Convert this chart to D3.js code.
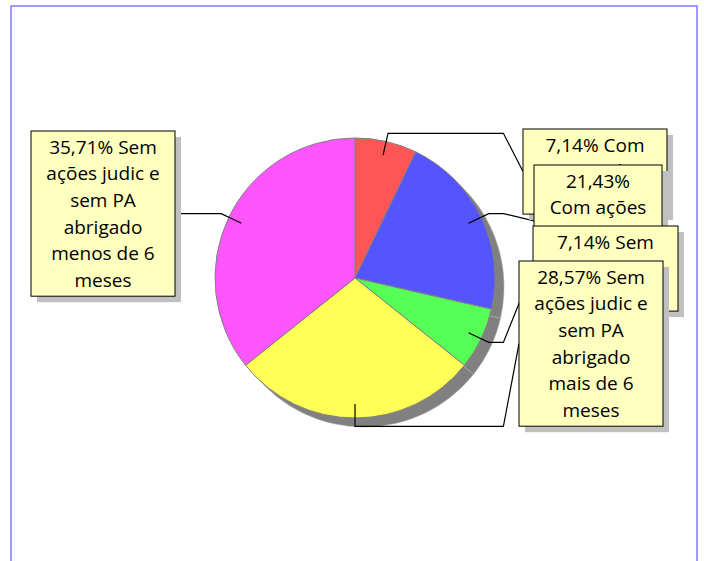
<!DOCTYPE html>
<html>
<head>
<meta charset="utf-8">
<script src="https://cdn.jsdelivr.net/npm/d3@7/dist/d3.min.js"></script>
<style>
  html, body { margin: 0; padding: 0; background: #ffffff; }
  svg { display: block; }
</style>
</head>
<body>
<svg id="chart" width="704" height="561"></svg>
<script>
// ---- data ----
const categories = [
  "Com ações judic e com PA",
  "Com ações judic e sem PA",
  "Sem ações judic e com PA",
  "Sem ações judic e sem PA abrigado mais de 6 meses",
  "Sem ações judic e sem PA abrigado menos de 6 meses"
];
const values = [7.14, 21.43, 7.14, 28.57, 35.71];
const labelLines = [
  ["7,14% Com", "ações judic e", "com PA"],
  ["21,43%", "Com ações", "judic e sem", "PA"],
  ["7,14% Sem", "ações judic e", "com PA"],
  ["28,57% Sem", "ações judic e", "sem PA", "abrigado", "mais de 6", "meses"],
  ["35,71% Sem", "ações judic e", "sem PA", "abrigado", "menos de 6", "meses"]
];
const colors = ["#ff5555", "#5555ff", "#55ff55", "#ffff55", "#ff55ff"];

// ---- layout ----
const W = 704, H = 561;
const cx = 355, cy = 278, R = 140;
const lineH = 26.7;
// label box top-left corners & widths (annotation layout)
const boxLayout = [
  {x: 523, y: 129, w: 144, side: 1},
  {x: 534, y: 165, w: 128, side: 1},
  {x: 533, y: 226, w: 145, side: 1},
  {x: 519, y: 261, w: 144, side: 1},
  {x: 31,  y: 131, w: 144, side: -1}
];

const svg = d3.select("#chart");

// frame
svg.append("rect")
  .attr("x", 11).attr("y", 6).attr("width", 686).attr("height", 600)
  .attr("fill", "none").attr("stroke", "#7b7bff").attr("stroke-width", 1.5);

const pie = d3.pie().sort(null).value(d => d)(values);
const arc = d3.arc().innerRadius(0).outerRadius(R);

// shadow
svg.append("g").attr("transform", `translate(${cx + 9},${cy + 9})`)
  .selectAll("path").data(pie).join("path")
  .attr("d", arc).attr("fill", "#808080")
  .attr("stroke", "#a8a8a8").attr("stroke-width", 0.6);

// slices
svg.append("g").attr("transform", `translate(${cx},${cy})`)
  .selectAll("path").data(pie).join("path")
  .attr("d", arc)
  .attr("fill", (d, i) => colors[i])
  .attr("stroke", "#808080").attr("stroke-width", 1);

// boxes geometry
const boxes = boxLayout.map((b, i) => {
  const h = labelLines[i].length * lineH + 5;
  return {...b, h};
});

// leader lines
const rIn = R * 0.9, rEl = R * 1.06;
const leaders = svg.append("g");
pie.forEach((d, i) => {
  const a = (d.startAngle + d.endAngle) / 2;
  const p0 = [cx + rIn * Math.sin(a), cy - rIn * Math.cos(a)];
  const p1 = [cx + rEl * Math.sin(a), cy - rEl * Math.cos(a)];
  const b = boxes[i];
  const p2 = [cx + b.side * rEl, p1[1]];
  const p3 = [b.side > 0 ? b.x : b.x + b.w, b.y + b.h / 2];
  leaders.append("path")
    .attr("d", d3.line()([p0, p1, p2, p3]))
    .attr("fill", "none").attr("stroke", "#000").attr("stroke-width", 1.2);
});

// label boxes
boxes.forEach((b, i) => {
  const g = svg.append("g");
  g.append("rect").attr("x", b.x + 6).attr("y", b.y + 6)
    .attr("width", b.w).attr("height", b.h).attr("fill", "#c0c0c0");
  g.append("rect").attr("x", b.x).attr("y", b.y)
    .attr("width", b.w).attr("height", b.h)
    .attr("fill", "#ffffc0").attr("stroke", "#000").attr("stroke-width", 1);
  labelLines[i].forEach((t, j) => {
    g.append("text")
      .attr("x", b.x + b.w / 2)
      .attr("y", b.y + 22.5 + j * lineH)
      .attr("text-anchor", "middle")
      .attr("font-family", "'Open Sans', sans-serif")
      .attr("font-size", 19)
      .attr("fill", "#000")
      .text(t);
  });
});
</script>
</body>
</html>
